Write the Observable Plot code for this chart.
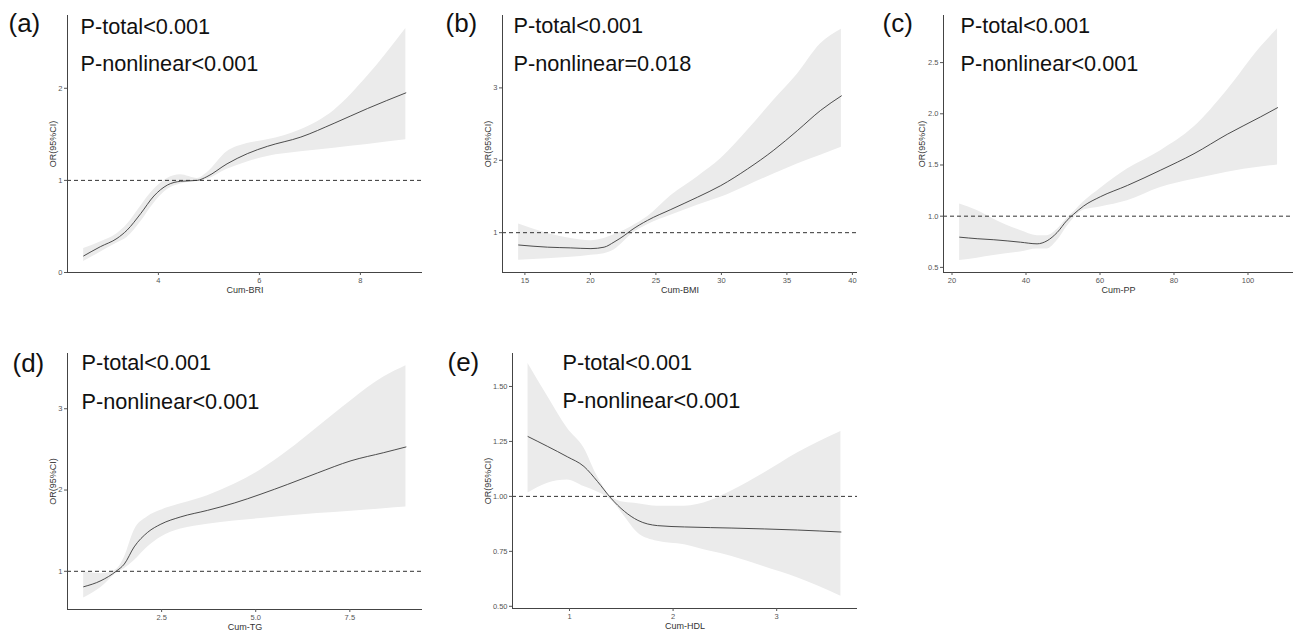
<!DOCTYPE html>
<html><head><meta charset="utf-8">
<script src="https://cdn.jsdelivr.net/npm/d3@7"></script>
<script src="https://cdn.jsdelivr.net/npm/@observablehq/plot@0.6"></script>
<style>
body{margin:0;background:#fff;}
#fig{position:relative;width:1293px;height:632px;overflow:hidden;background:#fff;}
#fig svg{position:absolute;overflow:visible;}
</style></head><body><div id="fig"></div>
<script>
// ---------- data ----------
const panelLetters = ["(a)", "(b)", "(c)", "(d)", "(e)"];
const pTotal = ["P-total<0.001", "P-total<0.001", "P-total<0.001", "P-total<0.001", "P-total<0.001"];
const pNonlinear = ["P-nonlinear<0.001", "P-nonlinear=0.018", "P-nonlinear<0.001", "P-nonlinear<0.001", "P-nonlinear<0.001"];
const xLabels = ["Cum-BRI", "Cum-BMI", "Cum-PP", "Cum-TG", "Cum-HDL"];
const yLabel = "OR(95%CI)";

// (a) Cum-BRI
const briX   = [2.52, 2.85, 3.18, 3.38, 3.65, 3.91, 4.18, 4.44, 4.77, 4.96, 5.36, 5.76, 6.16, 6.82, 7.48, 8.14, 8.9];
const briFit = [0.18, 0.28, 0.37, 0.46, 0.64, 0.83, 0.95, 0.99, 1.0, 1.04, 1.18, 1.29, 1.37, 1.47, 1.62, 1.78, 1.95];
const briLo  = [0.12, 0.22, 0.32, 0.38, 0.55, 0.75, 0.90, 0.96, 0.99, 1.01, 1.12, 1.20, 1.26, 1.31, 1.35, 1.39, 1.44];
const briHi  = [0.26, 0.33, 0.42, 0.52, 0.72, 0.90, 1.02, 1.06, 1.02, 1.08, 1.31, 1.40, 1.44, 1.55, 1.76, 2.13, 2.65];
const briXTicks = [4, 6, 8];
const briYTicks = [0, 1, 2];

// (b) Cum-BMI
const bmiX   = [14.52, 16.73, 18.5, 20.04, 21.05, 21.8, 22.58, 23.09, 24.36, 26.14, 28.17, 29.95, 31.99, 34.0, 35.8, 37.58, 39.16];
const bmiFit = [0.83, 0.80, 0.79, 0.78, 0.80, 0.87, 0.96, 1.03, 1.17, 1.32, 1.49, 1.65, 1.88, 2.14, 2.41, 2.69, 2.89];
const bmiLo  = [0.62, 0.64, 0.66, 0.69, 0.71, 0.76, 0.88, 0.97, 1.11, 1.24, 1.38, 1.49, 1.65, 1.81, 1.95, 2.07, 2.18];
const bmiHi  = [1.12, 0.99, 0.92, 0.89, 0.92, 0.97, 1.03, 1.08, 1.22, 1.51, 1.77, 2.02, 2.41, 2.83, 3.19, 3.61, 3.81];
const bmiXTicks = [15, 20, 25, 30, 35, 40];
const bmiYTicks = [1, 2, 3];

// (c) Cum-PP
const ppX   = [22.06, 26.8, 31.3, 38.5, 43.0, 45.7, 48.4, 51.1, 52.9, 55.6, 60.1, 67.4, 76.4, 85.4, 94.4, 103.4, 108];
const ppFit = [0.795, 0.78, 0.77, 0.746, 0.73, 0.76, 0.84, 0.96, 1.02, 1.10, 1.19, 1.30, 1.45, 1.61, 1.80, 1.97, 2.06];
const ppLo  = [0.567, 0.59, 0.616, 0.65, 0.68, 0.68, 0.76, 0.90, 0.98, 1.06, 1.09, 1.15, 1.28, 1.36, 1.43, 1.48, 1.50];
const ppHi  = [1.12, 1.055, 0.97, 0.86, 0.81, 0.81, 0.87, 0.98, 1.04, 1.14, 1.27, 1.46, 1.64, 1.87, 2.23, 2.65, 2.83];
const ppXTicks = [20, 40, 60, 80, 100];
const ppYTicks = [0.5, 1.0, 1.5, 2.0, 2.5];

// (d) Cum-TG
const tgX   = [0.43, 0.89, 1.29, 1.51, 1.77, 2.13, 2.48, 3.01, 3.72, 4.43, 5.14, 5.85, 6.64, 7.53, 8.4, 8.99];
const tgFit = [0.81, 0.885, 1.0, 1.09, 1.30, 1.48, 1.58, 1.67, 1.75, 1.84, 1.95, 2.07, 2.21, 2.36, 2.46, 2.53];
const tgLo  = [0.67, 0.80, 0.97, 1.03, 1.13, 1.30, 1.42, 1.52, 1.58, 1.62, 1.65, 1.68, 1.71, 1.74, 1.77, 1.79];
const tgHi  = [0.99, 0.97, 1.02, 1.17, 1.50, 1.67, 1.75, 1.83, 1.93, 2.07, 2.25, 2.48, 2.77, 3.10, 3.39, 3.53];
const tgXTicks = [2.5, 5.0, 7.5];
const tgYTicks = [1, 2, 3];

// (e) Cum-HDL
const hdlX   = [0.60, 0.79, 0.98, 1.14, 1.27, 1.40, 1.53, 1.66, 1.85, 2.11, 2.36, 2.56, 2.88, 3.20, 3.62];
const hdlFit = [1.272, 1.227, 1.18, 1.136, 1.068, 0.992, 0.932, 0.891, 0.867, 0.861, 0.858, 0.856, 0.852, 0.847, 0.838];
const hdlLo  = [1.015, 1.06, 1.075, 1.045, 1.02, 0.985, 0.91, 0.834, 0.796, 0.78, 0.75, 0.728, 0.68, 0.63, 0.546];
const hdlHi  = [1.605, 1.454, 1.31, 1.22, 1.09, 1.0, 0.973, 0.967, 0.955, 0.955, 0.98, 1.023, 1.106, 1.197, 1.295];
const hdlXTicks = [1, 2, 3];
const hdlYTicks = [0.50, 0.75, 1.00, 1.25, 1.50];

// ---------- layout ----------
const panels = [
  {x: briX, fit: briFit, lo: briLo, hi: briHi, xTicks: briXTicks, yTicks: briYTicks, xDomain: [2.2, 9.23], yDomain: [0, 2.79],
   xFmt: d3.format("d"), yFmt: d3.format("d"),
   box: {left: 0, top: 0, width: 430, height: 305, mL: 67, mR: 8, mT: 15, mB: 33},
   yLabDx: -14, letterDx: -59, letterDy: 16.5, pDx: 13, pDy1: 18, pDy2: 55.5},
  {x: bmiX, fit: bmiFit, lo: bmiLo, hi: bmiHi, xTicks: bmiXTicks, yTicks: bmiYTicks, xDomain: [13.29, 40.39], yDomain: [0.45, 4.0],
   xFmt: d3.format("d"), yFmt: d3.format("d"),
   box: {left: 430, top: 0, width: 430, height: 305, mL: 72, mR: 3, mT: 15, mB: 33},
   yLabDx: -14, letterDx: -57, letterDy: 16.5, pDx: 11, pDy1: 17.7, pDy2: 55},
  {x: ppX, fit: ppFit, lo: ppLo, hi: ppHi, xTicks: ppXTicks, yTicks: ppYTicks, xDomain: [17.7, 112.3], yDomain: [0.45, 2.96],
   xFmt: d3.format("d"), yFmt: d3.format(".1f"),
   box: {left: 860, top: 0, width: 433, height: 305, mL: 83, mR: 0, mT: 15, mB: 33},
   yLabDx: -21, letterDx: -61, letterDy: 16.5, pDx: 17, pDy1: 17.3, pDy2: 55.7},
  {x: tgX, fit: tgFit, lo: tgLo, hi: tgHi, xTicks: tgXTicks, yTicks: tgYTicks, xDomain: [0, 9.43], yDomain: [0.53, 3.68],
   xFmt: d3.format(".1f"), yFmt: d3.format("d"),
   box: {left: 0, top: 310, width: 430, height: 322, mL: 67, mR: 8, mT: 43, mB: 23},
   yLabDx: -14, letterDx: -55, letterDy: 18.4, pDx: 14, pDy1: 16.7, pDy2: 55},
  {x: hdlX, fit: hdlFit, lo: hdlLo, hi: hdlHi, xTicks: hdlXTicks, yTicks: hdlYTicks, xDomain: [0.45, 3.78], yDomain: [0.49, 1.65],
   xFmt: d3.format("d"), yFmt: d3.format(".2f"),
   box: {left: 430, top: 310, width: 430, height: 322, mL: 82, mR: 3, mT: 43, mB: 24},
   yLabDx: -24, letterDx: -65, letterDy: 17.7, pDx: 50, pDy1: 16, pDy2: 54.4}
];

const fig = document.getElementById("fig");
const FONT = "'Liberation Sans', Arial, Helvetica, sans-serif";

panels.forEach((p, i) => {
  const data = p.x.map((x, k) => ({x, fit: p.fit[k], lo: p.lo[k], hi: p.hi[k]}));
  const b = p.box;
  const svg = Plot.plot({
    width: b.width, height: b.height,
    marginLeft: b.mL, marginRight: b.mR, marginTop: b.mT, marginBottom: b.mB,
    style: {fontFamily: FONT, background: "transparent", overflow: "visible"},
    x: {domain: p.xDomain},
    y: {domain: p.yDomain},
    marks: [
      Plot.areaY(data, {x: "x", y1: "lo", y2: "hi", fill: "#ebebeb", curve: "monotone-x"}),
      Plot.ruleY([1], {stroke: "#333", strokeWidth: 1, strokeDasharray: "4,3"}),
      Plot.lineY(data, {x: "x", y: "fit", stroke: "#3a3a3a", strokeWidth: 0.9, curve: "monotone-x"}),
      Plot.ruleX([p.xDomain[0]], {stroke: "#444", strokeWidth: 1}),
      Plot.ruleY([p.yDomain[0]], {stroke: "#444", strokeWidth: 1}),
      Plot.axisX({ticks: p.xTicks, tickFormat: p.xFmt, tickSize: 3, tickPadding: 2, fontSize: 7.5, stroke: "#555", fill: "#555", label: null}),
      Plot.axisY({ticks: p.yTicks, tickFormat: p.yFmt, tickSize: 3, tickPadding: 2, fontSize: 7.5, stroke: "#555", fill: "#555", label: null}),
      Plot.text([xLabels[i]], {text: d => d, frameAnchor: "bottom", dy: 20, lineAnchor: "bottom", fontSize: 9, fill: "#333"}),
      Plot.text([yLabel], {text: d => d, frameAnchor: "left", dx: p.yLabDx, rotate: -90, lineAnchor: "middle", textAnchor: "middle", fontSize: 9, fill: "#333"}),
      Plot.text([panelLetters[i]], {text: d => d, frameAnchor: "top-left", dx: p.letterDx, dy: p.letterDy, textAnchor: "start", lineAnchor: "bottom", fontSize: 26, fill: "#111"}),
      Plot.text([pTotal[i]], {text: d => d, frameAnchor: "top-left", dx: p.pDx, dy: p.pDy1, textAnchor: "start", lineAnchor: "bottom", fontSize: 21.7, fill: "#111"}),
      Plot.text([pNonlinear[i]], {text: d => d, frameAnchor: "top-left", dx: p.pDx, dy: p.pDy2, textAnchor: "start", lineAnchor: "bottom", fontSize: 21.7, fill: "#111"})
    ]
  });
  svg.style.left = b.left + "px";
  svg.style.top = b.top + "px";
  fig.appendChild(svg);
});
</script>
</body></html>
